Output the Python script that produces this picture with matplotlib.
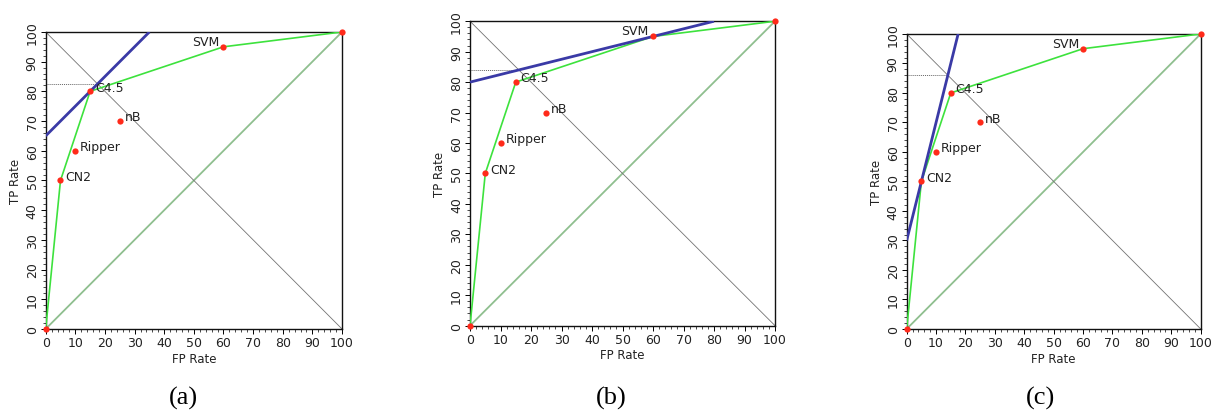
import numpy as np
import matplotlib
matplotlib.use("Agg")
import matplotlib.pyplot as plt
from matplotlib.ticker import MultipleLocator

# classifiers in ROC space (FP rate, TP rate in %)
names = ["", "CN2", "Ripper", "C4.5", "nB", "SVM", ""]
fp_rate = [0, 5, 10, 15, 25, 60, 100]
tp_rate = [0, 50, 60, 80, 70, 95, 100]

# convex hull
hull_fp = [0, 5, 15, 60, 100]
hull_tp = [0, 50, 80, 95, 100]

# iso-performance lines for the three panels
iso_slope = [1.0, 0.25, 4.0]
iso_intercept = [65, 80, 30]
panel_labels = ["(a)", "(b)", "(c)"]

# axes boxes in figure fractions and caption x positions
axes_boxes = [
    [0.0375, 0.203, 0.2433, 0.7174],
    [0.3859, 0.211, 0.2504, 0.7353],
    [0.7444, 0.203, 0.2414, 0.7126],
]
caption_x = [0.1505, 0.5022, 0.8545]

TXT = "#222222"

fig = plt.figure(figsize=(12.18, 4.14), dpi=100)

for k in range(3):
    ax = fig.add_axes(axes_boxes[k])
    m, b = iso_slope[k], iso_intercept[k]

    # reference diagonals
    ax.plot([0, 100], [0, 100], color="#8fbf8f", lw=1.3, zorder=1)
    ax.plot([0, 100], [100, 0], color="0.45", lw=0.6, zorder=1)

    # dotted line from y-axis to where the iso line meets the descending diagonal
    x_cross = (100 - b) / (m + 1)
    y_cross = m * x_cross + b
    ax.plot([0, x_cross], [y_cross, y_cross], color="0.4", lw=0.7,
            linestyle=(0, (1, 1)), zorder=2)

    # convex hull
    ax.plot(hull_fp, hull_tp, color="#3de23d", lw=1.2, zorder=3)

    # iso-performance line
    x_end = min(100, (100 - b) / m)
    ax.plot([0, x_end], [b, m * x_end + b], color="#3a3aa6", lw=2.0,
            zorder=4, solid_capstyle="butt")

    # classifier points
    ax.plot(fp_rate, tp_rate, "o", color="#ff2a1a", ms=4.5, mec="none",
            zorder=6, clip_on=False)

    for name, x, y in zip(names, fp_rate, tp_rate):
        if not name:
            continue
        if name == "SVM":
            ax.annotate(name, (x, y), xytext=(-3, 4), textcoords="offset points",
                        ha="right", va="center", fontsize=9, color=TXT, zorder=7)
        else:
            ax.annotate(name, (x, y), xytext=(3.5, 3), textcoords="offset points",
                        ha="left", va="center", fontsize=9, color=TXT, zorder=7)

    ax.set_xlim(0, 100)
    ax.set_ylim(0, 100)
    ax.xaxis.set_major_locator(MultipleLocator(10))
    ax.yaxis.set_major_locator(MultipleLocator(10))
    ax.xaxis.set_minor_locator(MultipleLocator(2))
    ax.yaxis.set_minor_locator(MultipleLocator(2))
    ax.tick_params(which="major", direction="out", length=3.5, width=0.7,
                   labelsize=9, labelcolor=TXT, pad=1.5)
    ax.tick_params(which="minor", direction="out", length=2, width=0.5)
    ax.tick_params(axis="y", labelrotation=90)
    for lab in ax.get_yticklabels():
        lab.set_va("center")

    for sp in ax.spines.values():
        sp.set_linewidth(1.0)
        sp.set_color("#111111")

    ax.set_xlabel("FP Rate", fontsize=8.5, color=TXT, labelpad=2)
    ax.set_ylabel("TP Rate", fontsize=8.5, color=TXT, labelpad=3)

    fig.text(caption_x[k], 0.038, panel_labels[k], ha="center", va="center",
             fontsize=19, family="Liberation Serif", color="black")

fig.savefig("out.png", dpi=100)
